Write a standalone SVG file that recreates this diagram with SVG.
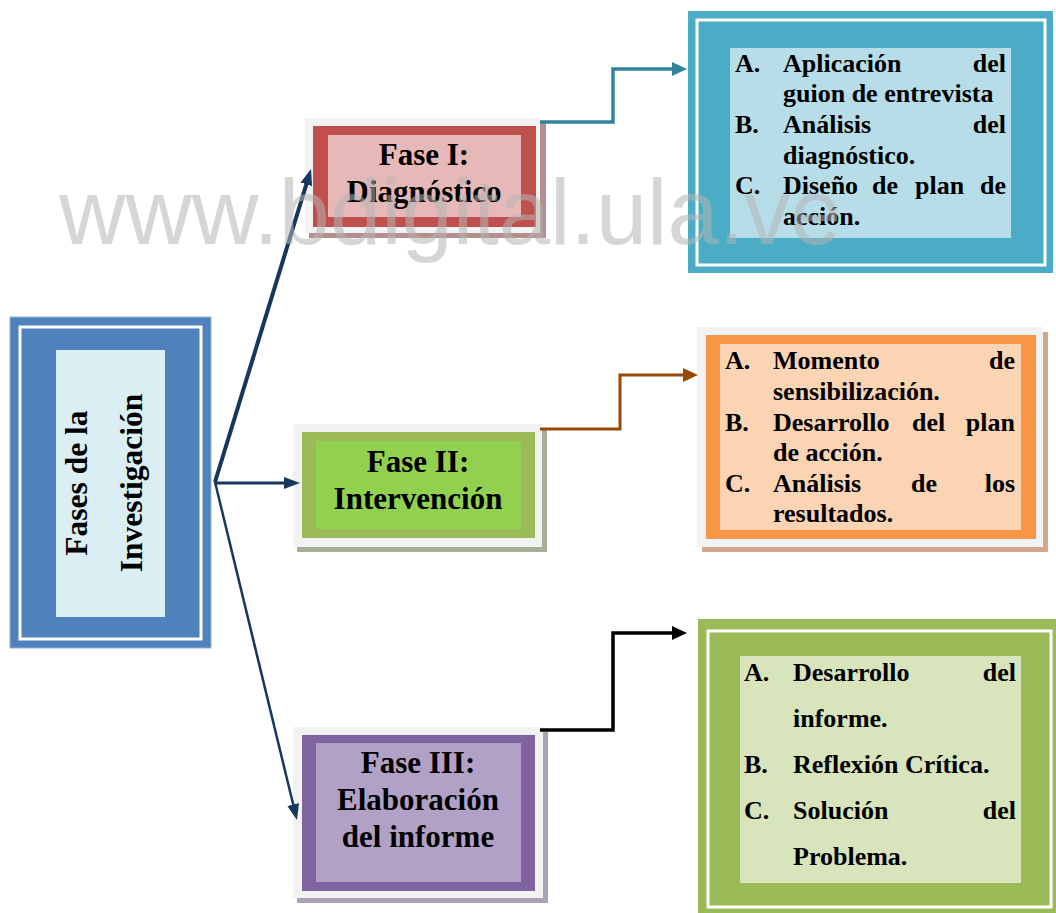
<svg xmlns="http://www.w3.org/2000/svg" width="1056" height="913" viewBox="0 0 1056 913">
<style>
.t{font-family:"Liberation Serif","Times New Roman",serif;font-weight:bold;fill:#000}
.ph{font-size:31px;text-anchor:middle}
.li{font-size:26px}
.e{text-anchor:end}
.frame{fill:#F2F2F2}
.wl{fill:none;stroke:#FFFFFF;stroke-width:3}
</style>
<defs>
<marker id="an" markerUnits="userSpaceOnUse" markerWidth="16" markerHeight="12" refX="6" refY="6" orient="auto">
<path d="M0,0 L16,6 L0,12 z" fill="#17375E"/>
</marker>
<marker id="at" markerUnits="userSpaceOnUse" markerWidth="15" markerHeight="14" refX="5" refY="7" orient="auto">
<path d="M0,0 L15,7 L0,14 z" fill="#31849B"/>
</marker>
<marker id="ab" markerUnits="userSpaceOnUse" markerWidth="15" markerHeight="14" refX="5" refY="7" orient="auto">
<path d="M0,0 L15,7 L0,14 z" fill="#984807"/>
</marker>
<marker id="ak" markerUnits="userSpaceOnUse" markerWidth="15" markerHeight="14" refX="5" refY="7" orient="auto">
<path d="M0,0 L15,7 L0,14 z" fill="#000000"/>
</marker>
</defs>
<rect width="1056" height="913" fill="#FFFFFF"/>

<g id="fases">
<rect x="10" y="317" width="201" height="331" fill="#4F81BD" stroke="#95B3D7" stroke-width="1"/>
<rect x="20" y="327" width="181" height="312" class="wl"/>
<rect x="56" y="350" width="109" height="267" fill="#DAEEF3"/>
<g transform="translate(0,483) rotate(-90)">
<text class="t" x="0" y="87" font-size="31.5" text-anchor="middle">Fases de la</text>
<text class="t" x="0" y="142" font-size="31.5" text-anchor="middle">Investigación</text>
</g>
</g>

<g id="fase1">
<rect x="309" y="123" width="237" height="115" fill="#B58E8E"/>
<rect x="305" y="118" width="235" height="115" class="frame"/>
<rect x="313" y="126" width="223" height="101" fill="#C0504D"/>
<rect x="328" y="135" width="193" height="82" fill="#E6B9B8"/>
<text class="t ph" x="424" y="165">Fase I:</text>
<text class="t ph" x="424" y="202">Diagnóstico</text>
</g>

<g id="fase2">
<rect x="297" y="429" width="250" height="123" fill="#A5AE97"/>
<rect x="293" y="424" width="249" height="123" class="frame"/>
<rect x="302" y="432" width="233" height="106" fill="#9BBB59"/>
<rect x="316" y="441" width="205" height="88" fill="#92D050"/>
<text class="t ph" x="418" y="472">Fase II:</text>
<text class="t ph" x="418" y="509">Intervención</text>
</g>

<g id="fase3">
<rect x="297" y="732" width="251" height="171" fill="#ABA2B6"/>
<rect x="293" y="727" width="250" height="171" class="frame"/>
<rect x="302" y="735" width="233" height="156" fill="#8064A2"/>
<rect x="316" y="743" width="205" height="139" fill="#B2A1C7"/>
<text class="t ph" x="418" y="773">Fase III:</text>
<text class="t ph" x="418" y="810">Elaboración</text>
<text class="t ph" x="418" y="847">del informe</text>
</g>

<g id="detalle1">
<rect x="688" y="11" width="365" height="262" fill="#4BACC6"/>
<rect x="697" y="20" width="348" height="245" class="wl"/>
<rect x="730" y="48" width="281" height="190" fill="#B7DEE8"/>
<text class="t li" x="735" y="71.5">A.</text>
<text class="t li" x="783" y="71.5">Aplicación</text>
<text class="t li e" x="1006" y="71.5">del</text>
<text class="t li" x="783" y="102">guion de entrevista</text>
<text class="t li" x="735" y="133">B.</text>
<text class="t li" x="783" y="133">Análisis</text>
<text class="t li e" x="1006" y="133">del</text>
<text class="t li" x="783" y="163.5">diagnóstico.</text>
<text class="t li" x="735" y="194">C.</text>
<text class="t li" x="783" y="194">Diseño</text>
<text class="t li" x="872" y="194">de</text>
<text class="t li" x="915" y="194">plan</text>
<text class="t li e" x="1006" y="194">de</text>
<text class="t li" x="783" y="225">acción.</text>
</g>

<g id="detalle2">
<rect x="702" y="332" width="346" height="220" fill="#D0A98C"/>
<rect x="697" y="327" width="346" height="220" class="frame"/>
<rect x="706" y="335" width="330" height="204" fill="#F79646"/>
<rect x="720" y="344" width="301" height="186" fill="#FBD4B4"/>
<text class="t li" x="725" y="369">A.</text>
<text class="t li" x="773" y="369">Momento</text>
<text class="t li e" x="1015" y="369">de</text>
<text class="t li" x="773" y="400">sensibilización.</text>
<text class="t li" x="725" y="430.5">B.</text>
<text class="t li" x="773" y="430.5">Desarrollo</text>
<text class="t li" x="912" y="430.5">del</text>
<text class="t li e" x="1015" y="430.5">plan</text>
<text class="t li" x="773" y="461">de acción.</text>
<text class="t li" x="725" y="491.5">C.</text>
<text class="t li" x="773" y="491.5">Análisis</text>
<text class="t li" x="911" y="491.5">de</text>
<text class="t li e" x="1015" y="491.5">los</text>
<text class="t li" x="773" y="522">resultados.</text>
</g>

<g id="detalle3">
<rect x="698" y="619" width="358" height="294" fill="#9BBB59"/>
<rect x="708" y="631" width="343" height="276" class="wl"/>
<rect x="740" y="656" width="281" height="227" fill="#D7E4BC"/>
<text class="t li" x="744" y="681">A.</text>
<text class="t li" x="793" y="681">Desarrollo</text>
<text class="t li e" x="1016" y="681">del</text>
<text class="t li" x="793" y="727">informe.</text>
<text class="t li" x="744" y="773">B.</text>
<text class="t li" x="793" y="773">Reflexión Crítica.</text>
<text class="t li" x="744" y="819">C.</text>
<text class="t li" x="793" y="819">Solución</text>
<text class="t li e" x="1016" y="819">del</text>
<text class="t li" x="793" y="865">Problema.</text>
</g>

<g id="connectors" fill="none">
<path d="M215,482 L308.1,178.6" stroke="#17375E" stroke-width="4" marker-end="url(#an)"/>
<path d="M215,483 L290,483" stroke="#17375E" stroke-width="3" marker-end="url(#an)"/>
<path d="M215,482 L294.6,810.3" stroke="#17375E" stroke-width="2.5" marker-end="url(#an)"/>
<path d="M540,122 H613 V69 H677" stroke="#31849B" stroke-width="3.5" marker-end="url(#at)"/>
<path d="M540,429 H620 V375 H688" stroke="#984807" stroke-width="3" marker-end="url(#ab)"/>
<path d="M540,730 H613 V633 H677" stroke="#000000" stroke-width="3.5" marker-end="url(#ak)"/>
</g>

<text x="59" y="244" font-family="'Liberation Sans',Arial,sans-serif" font-size="92" fill="#B4B4B4" fill-opacity="0.55">www.bdigital.ula.ve</text>
</svg>
